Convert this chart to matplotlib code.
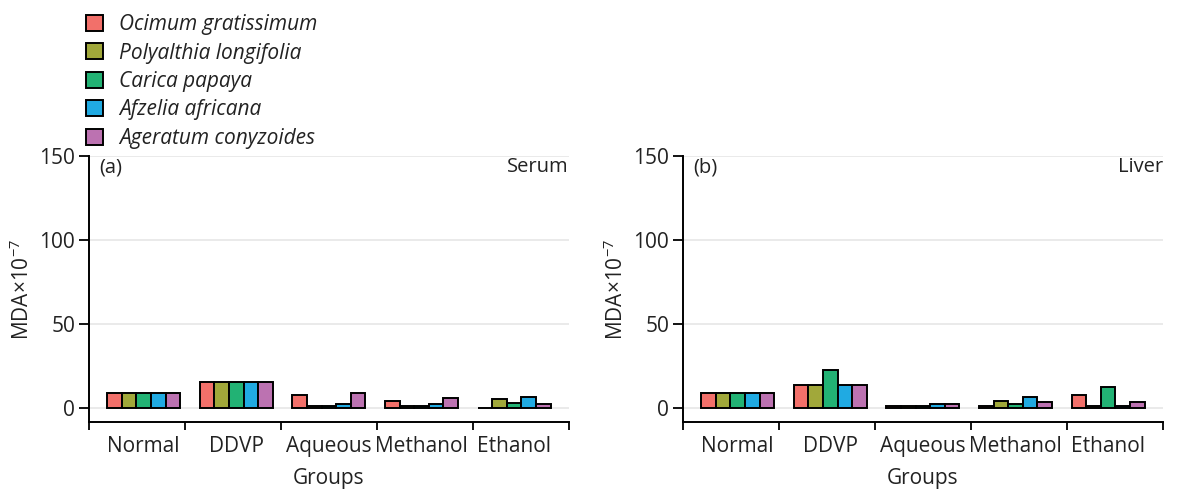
import numpy as np
import matplotlib.pyplot as plt
from matplotlib.patches import Patch

plt.rcParams['font.family'] = ['Open Sans', 'DejaVu Sans']
plt.rcParams['mathtext.fontset'] = 'custom'
plt.rcParams['mathtext.rm'] = 'Open Sans'
plt.rcParams['mathtext.it'] = 'Open Sans:italic'

groups = ['Normal', 'DDVP', 'Aqueous', 'Methanol', 'Ethanol']
plants = ['Ocimum gratissimum', 'Polyalthia longifolia', 'Carica papaya',
          'Afzelia africana', 'Ageratum conyzoides']
colors = ['#F2706A', '#A1A83A', '#22B274', '#20AAE2', '#BC72B1']

# MDA x 10^-7, one list per plant extract, values per group
serum = {
    'Ocimum gratissimum':    [8.9, 15.7, 7.9, 4.4, 0.3],
    'Polyalthia longifolia': [8.9, 15.7, 1.0, 1.0, 5.2],
    'Carica papaya':         [8.9, 15.7, 1.0, 1.0, 3.2],
    'Afzelia africana':      [8.9, 15.7, 2.6, 2.4, 6.8],
    'Ageratum conyzoides':   [8.9, 15.7, 9.0, 5.8, 2.2],
}
liver = {
    'Ocimum gratissimum':    [9.1, 13.5, 1.4, 1.2, 7.9],
    'Polyalthia longifolia': [9.1, 13.5, 1.4, 4.2, 1.0],
    'Carica papaya':         [9.1, 22.6, 1.4, 2.2, 12.3],
    'Afzelia africana':      [9.1, 13.5, 2.4, 6.5, 1.0],
    'Ageratum conyzoides':   [9.1, 13.5, 2.4, 3.4, 3.4],
}

fig = plt.figure(figsize=(11.79, 4.9), dpi=100)
W, H = 1179, 490
fs = 15

def panel(left_px, data, tag, tissue):
    ax = fig.add_axes([left_px / W, 1 - 422 / H, 480 / W, (422 - 156) / H])
    x = np.arange(len(groups))
    bw = 0.158
    for j, p in enumerate(plants):
        ax.bar(x + (j - 2) * bw, data[p], width=bw, color=colors[j],
               edgecolor='black', linewidth=1.4, zorder=3)
    xlim = (-0.591, 4.593)
    ax.set_xlim(xlim)
    ax.set_ylim(-8.3, 150)
    ax.set_yticks([0, 50, 100, 150])
    ax.grid(axis='y', color='#E6E6E6', linewidth=1.2, zorder=0)
    # boundary ticks split the axis in five, labels sit under each cluster
    ax.set_xticks(np.linspace(xlim[0], xlim[1], 6))
    ax.set_xticklabels([])
    ax.set_xticks(x, minor=True)
    ax.set_xticklabels(groups, minor=True)
    ax.tick_params(axis='x', which='major', length=6, width=1.3, color='black')
    ax.tick_params(axis='x', which='minor', length=0, labelsize=fs, pad=10,
                   colors='#222222')
    ax.tick_params(axis='y', length=7, width=1.3, labelsize=fs, pad=3,
                   labelcolor='#222222')
    for s in ['top', 'right']:
        ax.spines[s].set_visible(False)
    ax.spines['left'].set_linewidth(1.4)
    ax.spines['bottom'].set_linewidth(1.4)
    ax.set_ylabel('MDA×10$^{-7}$', fontsize=fs, color='#222222', labelpad=4)
    ax.set_xlabel('Groups', fontsize=fs, color='#222222', labelpad=8)
    ax.text(0.022, 0.995, tag, transform=ax.transAxes, ha='left', va='top',
            fontsize=14.5, color='#222222')
    ax.text(1.0, 0.995, tissue, transform=ax.transAxes, ha='right', va='top',
            fontsize=14.5, color='#222222')
    return ax

panel(89, serum, '(a)', 'Serum')
panel(683, liver, '(b)', 'Liver')

handles = [Patch(facecolor=c, edgecolor='black', linewidth=1.4) for c in colors]
fig.legend(handles, plants, loc='upper left', bbox_to_anchor=(86 / W, 1 - 14 / H),
           frameon=False, borderpad=0, borderaxespad=0,
           prop={'style': 'italic', 'size': fs},
           handlelength=0.82, handleheight=0.82, handletextpad=0.75,
           labelspacing=0.36, labelcolor='#222222')

fig.savefig('out.png', dpi=100)
